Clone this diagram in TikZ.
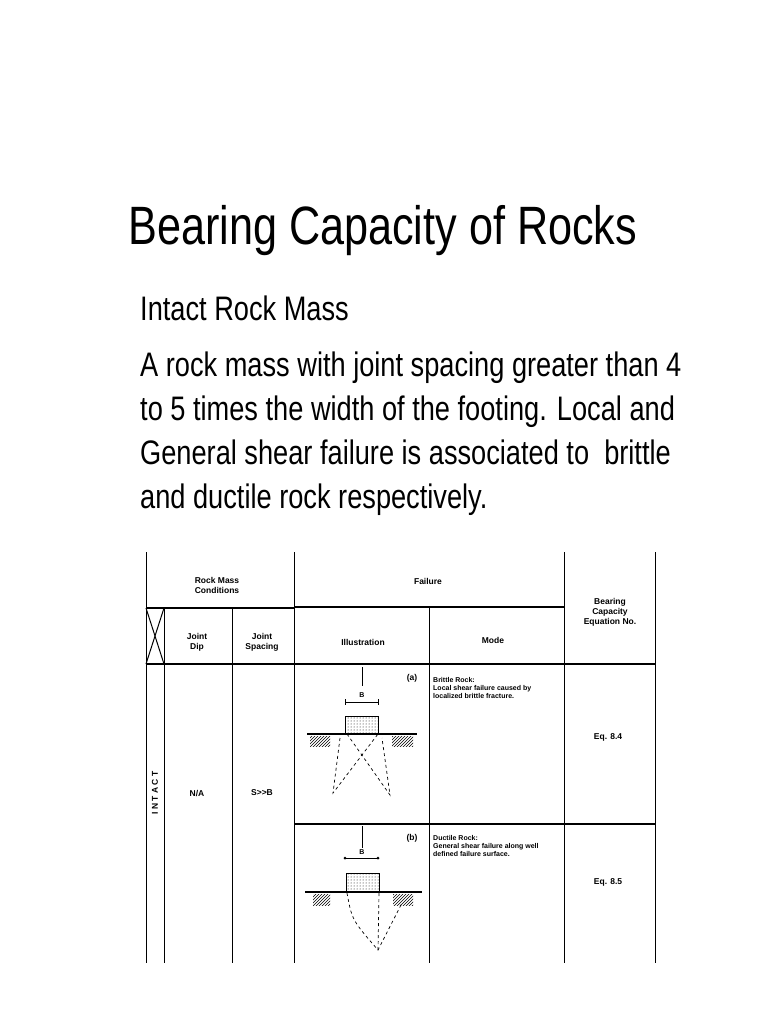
\documentclass[tikz,border=0pt]{standalone}
\usepackage{fontspec}
\setmainfont{Liberation Sans}
\usepackage{graphicx}
\usetikzlibrary{patterns}
\begin{document}
\begin{tikzpicture}[x=1pt,y=-1pt,
  big/.style={inner sep=0pt,anchor=base west},
  tab/.style={inner sep=0pt,font=\fontsize{8.5}{10}\selectfont\bfseries,align=center},
  tabl/.style={inner sep=0pt,font=\fontsize{7}{8}\selectfont\bfseries,align=left,anchor=north west},
  grid/.style={line width=1pt},
  thick2/.style={line width=1.6pt},
  dsh/.style={dashed,line width=0.7pt},
  hatch/.style={pattern=north east lines}]
\useasboundingbox (0,0) rectangle (768,1024);
\fill[white] (0,0) rectangle (768,1024);
% title and text
\node[big] (title) at (128,244) {\scalebox{0.8}[1]{\fontsize{54}{60}\selectfont Bearing Capacity of Rocks}};
\node[big] (l0) at (140,320) {\scalebox{0.8}[1]{\fontsize{34}{40}\selectfont Intact Rock Mass}};
\node[big] (l1) at (140,376) {\scalebox{0.8}[1]{\fontsize{34}{40}\selectfont A rock mass with joint spacing greater than 4}};
\node[big] (l2) at (140,420) {\scalebox{0.8}[1]{\fontsize{34}{40}\selectfont to 5 times the width of the footing. Local and}};
\node[big] (l3) at (140,464) {\scalebox{0.8}[1]{\fontsize{34}{40}\selectfont General shear failure is associated to\ \ brittle}};
\node[big] (l4) at (140,508) {\scalebox{0.8}[1]{\fontsize{34}{40}\selectfont and ductile rock respectively.}};
% table grid
\draw[grid] (146,552) -- (146,963);
\draw[grid] (164,608) -- (164,963);
\draw[grid] (232,608) -- (232,963);
\draw[grid] (294,552) -- (294,963);
\draw[grid] (429,607) -- (429,963);
\draw[grid] (564,552) -- (564,963);
\draw[grid] (655,552) -- (655,963);
\draw[thick2] (146,608) -- (294,608);
\draw[thick2] (294,607) -- (564,607);
\draw[thick2] (146,664) -- (655,664);
\draw[thick2] (294,824) -- (655,824);
\draw[grid] (146,608) -- (164,664) (164,608) -- (146,664);
% headers
\node[tab] (h1) at (217,585) {Rock Mass\\Conditions};
\node[tab] (h2) at (428,581) {Failure};
\node[tab] (h3) at (610,612) {Bearing\\Capacity\\Equation No.};
\node[tab] (h4) at (197,642) {Joint\\Dip};
\node[tab] (h5) at (262,642) {Joint\\Spacing};
\node[tab] (h6) at (363,642) {Illustration};
\node[tab] (h7) at (493,640) {Mode};
\node[tab,rotate=90] (intact) at (155,793) {I N T A C T};
\node[tab] (na) at (197,793) {N/A};
\node[tab] (sb) at (262,793) {S{>}{>}B};
\node[tabl] (ma) at (433,677) {Brittle Rock:\\Local shear failure caused by\\localized brittle fracture.};
\node[tabl] (mb) at (433,835) {Ductile Rock:\\General shear failure along well\\defined failure surface.};
\node[tab] (ea) at (608,737) {Eq. 8.4};
\node[tab] (eb) at (608,882) {Eq. 8.5};
% illustration (a)
\node[tab] (la) at (412,678) {(a)};
\draw[line width=1pt] (362,667) -- (362,686);
\node[tab,font=\fontsize{7}{8}\selectfont\bfseries] (Ba) at (362,695) {B};
\draw[line width=0.7pt] (345,702) -- (378,702) (345,699) -- (345,705) (378,699) -- (378,705);
\draw[line width=1pt,pattern=dots] (345,716) rectangle (378,733);
\draw[line width=1.8pt] (307,734) -- (417,734);
\fill[hatch] (310,736) rectangle (330,746);
\fill[hatch] (392,736) rectangle (413,746);
\draw[dsh] (340,738) -- (333,793) -- (378,734);
\draw[dsh] (347,734) -- (390,795) -- (382,738);
% illustration (b)
\node[tab] (lb) at (412,838) {(b)};
\draw[line width=1pt] (362,826) -- (362,848);
\node[tab,font=\fontsize{7}{8}\selectfont\bfseries] (Bb) at (362,852) {B};
\draw[line width=0.7pt] (345,858) -- (378,858);
\fill (345,858) circle (1.5) (378,858) circle (1.5);
\draw[line width=1pt,pattern=dots] (346,873) rectangle (379,892);
\draw[line width=1.8pt] (305,892) -- (422,892);
\fill[hatch] (313,894) rectangle (330,905);
\fill[hatch] (393,894) rectangle (413,905);
\draw[dsh] (347,893) .. controls (352,920) .. (378,950) -- (402,903);
\draw[dsh] (379,893) -- (378,950);
\end{tikzpicture}
\end{document}
